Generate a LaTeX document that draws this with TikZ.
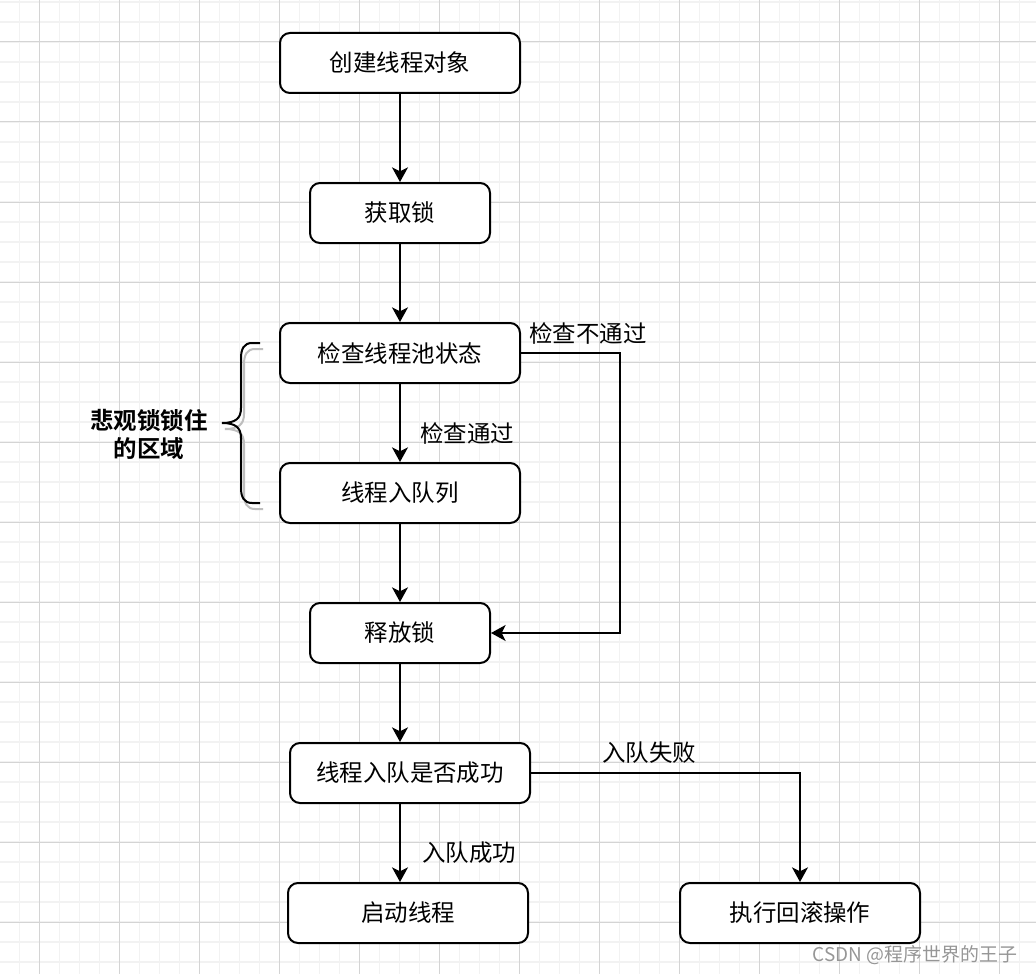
\documentclass[tikz,border=0pt]{standalone}
\usepackage{fontspec}
\newfontfamily\cjk{Noto Sans CJK SC}
\newfontfamily\cjkbold{Noto Sans CJK SC Bold}
\usetikzlibrary{arrows.meta}
\definecolor{gridminor}{RGB}{242,242,242}
\definecolor{gridmajor}{RGB}{212,212,212}
\definecolor{shadowgray}{RGB}{190,190,190}
\definecolor{wmgray}{RGB}{150,150,150}
\tikzset{
  box/.style={draw=black, line width=1.5pt, rounded corners=7.5pt, fill=white,
    minimum height=45pt, inner sep=0pt, font=\cjk\fontsize{17.6}{21}\selectfont},
  widebox/.style={box, minimum width=180pt},
  narrowbox/.style={box, minimum width=135pt},
  arr/.style={line width=1.5pt, -{Stealth[length=11pt,width=12pt,inset=3pt]}},
  edgelabel/.style={font=\cjk\fontsize{17.6}{21}\selectfont, inner sep=0pt},
  bracelabel/.style={font=\cjkbold\fontsize{17.6}{21}\selectfont, align=center, inner sep=0pt},
}
\begin{document}
\begin{tikzpicture}[x=0.75pt, y=-0.75pt]
\useasboundingbox (0,0) rectangle (1036,974);
\fill[white] (0,0) rectangle (1036,974);
% grid
\foreach \x in {19.5,39.5,...,1036} \draw[gridminor, line width=1.1pt] (\x,0) -- (\x,974);
\foreach \y in {2,22,...,974} \draw[gridminor, line width=1.1pt] (0,\y) -- (1036,\y);
\foreach \x in {39.5,119.5,...,1036} \draw[gridmajor, line width=0.75pt] (\x,0) -- (\x,974);
\foreach \y in {42,122,...,974} \draw[gridmajor, line width=0.75pt] (0,\y) -- (1036,\y);

% nodes
\node[widebox]   (b1) at (400,63)  {创建线程对象};
\node[narrowbox] (b2) at (400,213) {获取锁};
\node[widebox]   (b3) at (400,353) {检查线程池状态};
\node[widebox]   (b4) at (400,493) {线程入队列};
\node[narrowbox] (b5) at (400,633) {释放锁};
\node[widebox]   (b6) at (410,773) {线程入队是否成功};
\node[widebox]   (b7) at (408,913) {启动线程};
\node[widebox]   (b8) at (800,913) {执行回滚操作};

\coordinate (k1) at (620,633);

% connectors
\draw[arr] (b1) -- (b2);
\draw[arr] (b2) -- (b3);
\draw[arr] (b3) -- (b4);
\draw[arr] (b3.east) -| (k1) -- (b5.east);
\draw[arr] (b4) -- (b5);
\draw[arr] (b5.south) -- (b6.north -| b5.south);
\draw[arr] (b6.south -| b5.south) -- (b7.north -| b5.south);
\draw[arr] (b6.east) -| (b8.north);

% edge labels
\node[edgelabel] (l1) at (467,433) {检查通过};
\node[edgelabel] (l2) at (588,333) {检查不通过};
\node[edgelabel] (l3) at (469,853) {入队成功};
\node[edgelabel] (l4) at (649,753) {入队失败};

% brace (shadow then brace)
\begin{scope}[shift={(3,6)}]
\draw[shadowgray, line width=1.5pt]
  (260,343) -- (252,343) .. controls (244,343) and (241,349) .. (241,358)
  -- (241,408) .. controls (241,418) and (236,423) .. (222,423)
  .. controls (236,423) and (241,428) .. (241,438)
  -- (241,488) .. controls (241,497) and (244,503) .. (252,503) -- (260,503);
\end{scope}
\coordinate (bt) at (260,343);
\coordinate (bb) at (260,503);
\draw[black, line width=1.5pt]
  (bt) -- (252,343) .. controls (244,343) and (241,349) .. (241,358)
  -- (241,408) .. controls (241,418) and (236,423) .. (222,423)
  .. controls (236,423) and (241,428) .. (241,438)
  -- (241,488) .. controls (241,497) and (244,503) .. (252,503) -- (bb);
\node[bracelabel] (bl) at (149,434) {悲观锁锁住\\的区域};

% watermark
\node[font=\cjk\fontsize{14.2}{17}\selectfont, text=wmgray, inner sep=0pt] (wm) at (915,955) {CSDN @程序世界的王子};
\end{tikzpicture}
\end{document}
